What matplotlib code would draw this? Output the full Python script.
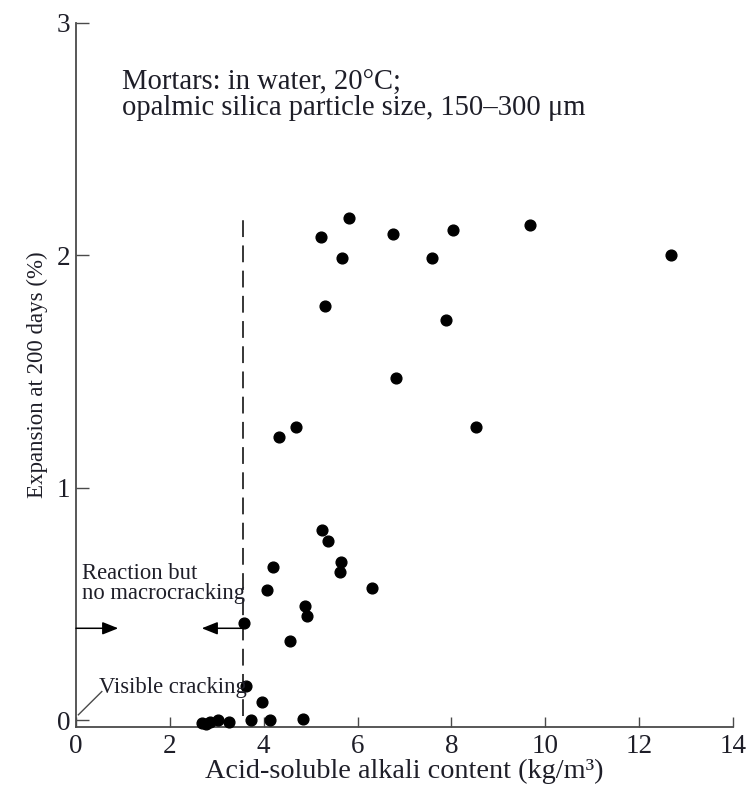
import matplotlib
matplotlib.use("Agg")
import matplotlib.pyplot as plt

# values
alkali = [5.82, 5.22, 6.76, 8.03, 9.67, 5.66, 7.59, 12.68, 5.30, 7.88, 6.81, 4.33, 4.68, 8.53,
	5.25, 5.38, 4.19, 5.65, 5.63, 4.06, 6.30, 4.88, 4.93, 3.58, 4.56, 3.62, 3.97, 3.73, 4.13, 4.83,
	2.68, 2.76, 2.86, 3.02, 3.25]
expansion = [2.16, 2.08, 2.09, 2.11, 2.13, 1.99, 1.99, 2.00, 1.78, 1.72, 1.47, 1.22, 1.26, 1.26,
	0.82, 0.77, 0.66, 0.68, 0.64, 0.56, 0.57, 0.49, 0.45, 0.42, 0.34, 0.15, 0.08, 0.00, 0.00, 0.005,
	-0.01, -0.015, -0.005, 0.0, -0.005]

x_ticks = [0, 2, 4, 6, 8, 10, 12, 14]
y_ticks = [0, 1, 2, 3]

threshold = 3.55
threshold_top = 2.18
arrow_level = 0.396

TEXT = "#1e1e28"
SPINE = "#4a4a4a"

def setup_axes(fig):
	ax = fig.add_axes([0.1012, 0.079, 0.8748, 0.8923])
	ax.set_xlim(0, 14)
	ax.set_ylim(-0.027, 3)
	ax.spines["top"].set_visible(False)
	ax.spines["right"].set_visible(False)
	for s in ("left", "bottom"):
		ax.spines[s].set_color(SPINE)
		ax.spines[s].set_linewidth(1.3)

	ax.set_xticks(x_ticks)
	ax.set_yticks(y_ticks)
	ax.tick_params(axis="x", direction="in", length=7, width=1.0, color=SPINE,
		labelsize=19.5, labelcolor=TEXT, pad=5)
	ax.tick_params(axis="y", direction="in", length=9, width=1.0, color=SPINE,
		labelsize=19.5, labelcolor=TEXT, pad=4)

	ax.set_xlabel("Acid-soluble alkali content (kg/m³)", fontsize=20.3, color=TEXT, labelpad=0.5)
	ax.set_ylabel("Expansion at 200 days (%)", fontsize=16.5, color=TEXT, labelpad=6)
	return ax

def draw_data(ax):
	ax.scatter(alkali, expansion, s=60, color="black", zorder=3, clip_on=False)
	ax.plot([threshold, threshold], [0.02, threshold_top], color="black", lw=1.1,
		linestyle=(0, (11, 5.5)))

def draw_notes(ax):
	ax.text(0.98, 2.71, "Mortars: in water, 20°C;", fontsize=20.6, color=TEXT)
	ax.text(0.98, 2.605, "opalmic silica particle size, 150–300 μm", fontsize=20.6, color=TEXT)

	ax.text(0.12, 0.608, "Reaction but", fontsize=16.3, color=TEXT)
	ax.text(0.12, 0.521, "no macrocracking", fontsize=16.3, color=TEXT)

	style = "-|>,head_length=0.8,head_width=0.32"
	ax.annotate("", xy=(0.90, arrow_level), xytext=(0, arrow_level),
		arrowprops=dict(arrowstyle=style, color="black", lw=1.1, mutation_scale=12,
			shrinkA=0, shrinkB=0))
	ax.annotate("", xy=(2.68, arrow_level), xytext=(threshold, arrow_level),
		arrowprops=dict(arrowstyle=style, color="black", lw=1.1, mutation_scale=12,
			shrinkA=0, shrinkB=0))

	ax.text(0.50, 0.117, "Visible cracking", fontsize=16.3, color=TEXT)
	ax.plot([0.05, 0.55], [0.024, 0.124], color=SPINE, lw=1.0)

def main():
	plt.rcParams["font.family"] = ["Liberation Serif", "DejaVu Serif"]
	fig = plt.figure(figsize=(7.51, 7.89), dpi=100)
	ax = setup_axes(fig)
	draw_data(ax)
	draw_notes(ax)
	fig.savefig("out.png", dpi=100)

if __name__ == "__main__":
	main()
